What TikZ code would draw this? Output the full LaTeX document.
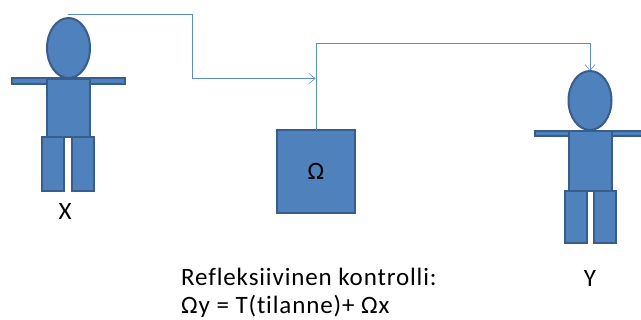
\documentclass[tikz,border=0pt]{standalone}
\usepackage{fontspec}
\setmainfont[Ligatures=NoCommon]{Carlito}
\newfontfamily\captionfont[Ligatures=NoCommon,LetterSpace=3.5]{Carlito}
\usetikzlibrary{shapes.geometric,arrows.meta}
\definecolor{bodyfill}{HTML}{4F81BD}
\definecolor{bodyline}{HTML}{385D8A}
\definecolor{linkblue}{HTML}{5B8CC8}
\tikzset{
  part/.style={draw=bodyline,fill=bodyfill,line width=2pt,inner sep=0pt,outer sep=0pt},
  boxpart/.style={part,rectangle,minimum width=#1},
  headpart/.style={part,ellipse,minimum width=43pt,minimum height=60pt},
  link/.style={draw=linkblue,line width=0.9pt,-{Straight Barb[length=6pt,width=10pt,line width=0.6pt]}},
  label/.style={inner sep=0pt,text=black,font=\fontsize{25}{30}\selectfont,anchor=base},
  captionline/.style={label,anchor=base west,font=\captionfont\fontsize{25}{30}\selectfont}
}
\begin{document}
\begin{tikzpicture}[x=1pt,y=-1pt]
\useasboundingbox[fill=white] (0,0) rectangle (641,320);
% Figure X
\node[boxpart=113pt,minimum height=6pt] (xarms) at (68,81) {};
\node[boxpart=43pt,minimum height=58pt] (xbody) at (68.5,108) {};
\node[boxpart=22pt,minimum height=54pt] (xlegl) at (53,164) {};
\node[boxpart=22pt,minimum height=54pt] (xlegr) at (83,164) {};
\node[headpart] (xhead) at (68.5,48) {};
\node[label] (xlabel) at (65,220) {X};
% Omega box
\node[part,rectangle,minimum width=78pt,minimum height=83pt] (omega) at (316,171.5) {};
\node[label] (omegatext) at (316,180) {Ω};
% Figure Y
\node[boxpart=107pt,minimum height=5pt] (yarms) at (588,133.5) {};
\node[boxpart=43pt,minimum height=60pt] (ybody) at (590,161) {};
\node[boxpart=22pt,minimum height=52pt] (ylegl) at (575.5,217) {};
\node[boxpart=22pt,minimum height=52pt] (ylegr) at (605,217) {};
\node[headpart,minimum height=59pt] (yhead) at (590,100.5) {};
\node[label] (ylabel) at (590,287) {Y};
% Caption
\node[captionline] (capa) at (181,286) {Refleksiivinen kontrolli:};
\node[captionline] (capb) at (181,314) {Ωy = T(tilanne)+ Ωx};
% Connectors
\coordinate (xstart) at (68,14);
\coordinate (join) at (315.5,78.5);
\draw[link] (xstart) -- (192,14) -- (192,78.5) -- (join);
\draw[link] (omega.north) -- (316,43.5) -- (590,43.5) -- (yhead.north);
\end{tikzpicture}
\end{document}
